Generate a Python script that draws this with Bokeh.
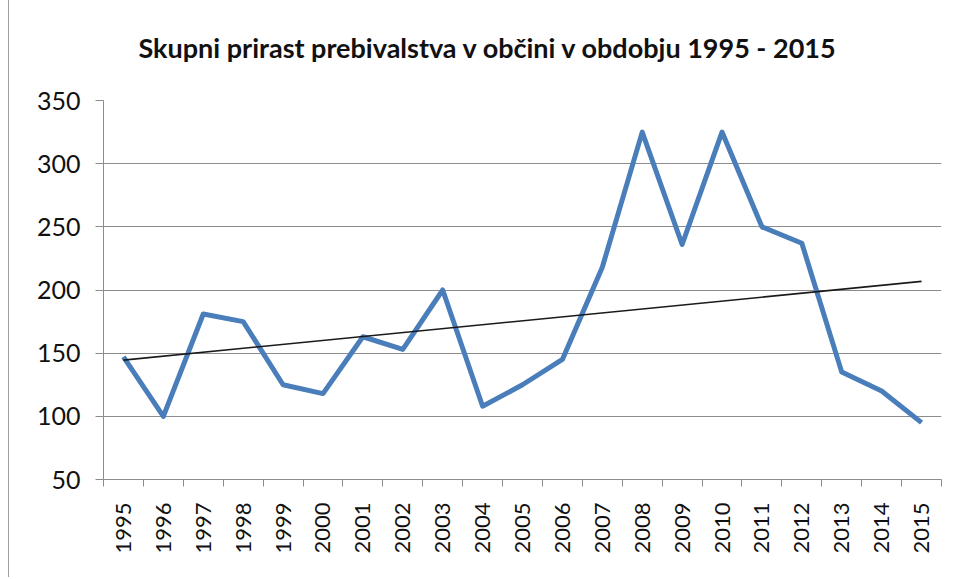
import math
from bokeh.plotting import figure
from bokeh.models import FixedTicker, Title
from bokeh.embed import file_html
from bokeh.resources import INLINE

# ---- data ----
years = list(range(1995, 2016))
values = [147, 100, 181, 175, 125, 118, 163, 153, 200, 108, 125,
          145, 218, 325, 236, 325, 250, 237, 135, 120, 95]
trend_years = [1995, 2015]
trend_values = [144.5, 206.8]
y_ticks = [50, 100, 150, 200, 250, 300, 350]
title_text = "Skupni prirast prebivalstva v občini v obdobju 1995 - 2015"

p = figure(width=948, height=597, output_backend="svg", toolbar_location=None,
           x_range=(years[0] - 0.5, years[-1] + 0.5), y_range=(y_ticks[0], y_ticks[-1]),
           min_border_left=94, min_border_right=16, min_border_top=120, min_border_bottom=98)
p.styles = {"margin-left": "8px", "margin-top": "-20px",
            "border-left": "1px solid #a0a0a0"}

p.add_layout(Title(text=title_text, align="left", offset=35, text_font="Lato",
                   text_font_size="27px", text_font_style="bold",
                   text_color="#111111", standoff=74), "above")

p.outline_line_color = None
p.background_fill_color = "white"
p.border_fill_color = "white"

# x axis: labels at category centres, ticks at category boundaries
boundaries = [y - 0.5 for y in years] + [years[-1] + 0.5]
p.xaxis.ticker = FixedTicker(ticks=years, minor_ticks=boundaries)
p.xaxis.major_tick_out = 0
p.xaxis.major_tick_in = 0
p.xaxis.minor_tick_out = 7
p.xaxis.minor_tick_in = 0
p.xaxis.minor_tick_line_color = "#8c8c8c"
p.xaxis.axis_line_color = "#8c8c8c"
p.xaxis.major_label_orientation = math.pi / 2
p.xaxis.major_label_text_font = "Lato"
p.xaxis.major_label_text_font_size = "22px"
p.xaxis.major_label_text_color = "#111111"
p.xaxis.major_label_standoff = 16
p.xgrid.grid_line_color = None

p.yaxis.ticker = FixedTicker(ticks=y_ticks)
p.yaxis.major_tick_out = 8
p.yaxis.major_tick_in = 0
p.yaxis.minor_tick_line_color = None
p.yaxis.major_tick_line_color = "#8c8c8c"
p.yaxis.axis_line_color = "#8c8c8c"
p.yaxis.major_label_text_font = "Lato"
p.yaxis.major_label_text_font_size = "25px"
p.yaxis.major_label_text_color = "#111111"
p.yaxis.major_label_standoff = 15
p.ygrid.ticker = FixedTicker(ticks=y_ticks)
p.ygrid.grid_line_color = "#8c8c8c"
p.ygrid.grid_line_width = 1

p.line(years, values, line_width=5, line_color="#4a7ebb", line_join="round")
p.line(trend_years, trend_values, line_width=1.6, line_color="#1a1a1a")

open("out.html", "w").write(file_html(p, INLINE))
